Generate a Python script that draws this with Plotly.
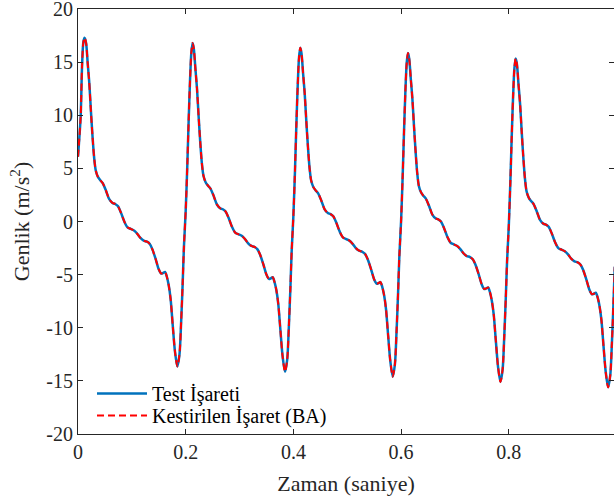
import plotly.graph_objects as go

# time (s) and amplitude (m/s^2)
t = [
    0.000, 0.0025, 0.005, 0.0075, 0.010, 0.0122, 0.015, 0.018, 0.021, 0.024, 0.027, 0.030, 0.033, 0.037, 0.041, 0.046,
    0.052, 0.058, 0.064, 0.069, 0.074, 0.080, 0.086, 0.092, 0.098, 0.104, 0.110, 0.116, 0.122, 0.128, 0.133, 0.138,
    0.144, 0.150, 0.1545, 0.158, 0.1616, 0.165, 0.1685, 0.172, 0.176, 0.180, 0.1845, 0.1885, 0.1915, 0.1944, 0.1968,
    0.200, 0.203, 0.2055, 0.208, 0.2105, 0.2128, 0.215, 0.218, 0.221, 0.224, 0.227, 0.230, 0.233, 0.237, 0.241, 0.246,
    0.252, 0.258, 0.264, 0.269, 0.274, 0.280, 0.286, 0.292, 0.298, 0.304, 0.310, 0.316, 0.322, 0.328, 0.333, 0.338,
    0.344, 0.350, 0.3545, 0.358, 0.3616, 0.365, 0.3685, 0.372, 0.376, 0.380, 0.3845, 0.3885, 0.3915, 0.3944, 0.3968,
    0.400, 0.403, 0.4055, 0.408, 0.4105, 0.4128, 0.415, 0.418, 0.421, 0.424, 0.427, 0.430, 0.433, 0.437, 0.441, 0.446,
    0.452, 0.458, 0.464, 0.469, 0.474, 0.480, 0.486, 0.492, 0.498, 0.504, 0.510, 0.516, 0.522, 0.528, 0.533, 0.538,
    0.544, 0.550, 0.5545, 0.558, 0.5616, 0.565, 0.5685, 0.572, 0.576, 0.580, 0.5845, 0.5885, 0.5915, 0.5944, 0.5968,
    0.600, 0.603, 0.6055, 0.608, 0.6105, 0.6128, 0.615, 0.618, 0.621, 0.624, 0.627, 0.630, 0.633, 0.637, 0.641, 0.646,
    0.652, 0.658, 0.664, 0.669, 0.674, 0.680, 0.686, 0.692, 0.698, 0.704, 0.710, 0.716, 0.722, 0.728, 0.733, 0.738,
    0.744, 0.750, 0.7545, 0.758, 0.7616, 0.765, 0.7685, 0.772, 0.776, 0.780, 0.7845, 0.7885, 0.7915, 0.7944, 0.7968,
    0.800, 0.803, 0.8055, 0.808, 0.8105, 0.8128, 0.815, 0.818, 0.821, 0.824, 0.827, 0.830, 0.833, 0.837, 0.841, 0.846,
    0.852, 0.858, 0.864, 0.869, 0.874, 0.880, 0.886, 0.892, 0.898, 0.904, 0.910, 0.916, 0.922, 0.928, 0.933, 0.938,
    0.944, 0.950, 0.9545, 0.958, 0.9616, 0.965, 0.9685, 0.972, 0.976, 0.980, 0.9845, 0.9885, 0.9915, 0.9944, 0.9968,
]

test_signal = [
    6.1, 7.9, 9.9, 14.6, 16.9, 17.3, 16.8, 14.9, 13.0, 10.4, 8.0, 6.0, 4.8, 4.2, 3.9, 3.6,
    2.9, 2.1, 1.75, 1.65, 1.45, 0.8, 0.0, -0.55, -0.7, -0.85, -1.15, -1.55, -1.8, -1.9, -2.1, -2.6,
    -3.5, -4.5, -4.9, -4.85, -4.75, -5.2, -6.0, -7.3, -9.8, -12.2, -13.65, -12.5, -9.5, -5.8, -2.3,
    1.0, 5.3, 9.5, 13.2, 15.9, 16.8, 16.3, 14.4, 12.5, 9.9, 7.5, 5.5, 4.3, 3.7, 3.4, 3.1,
    2.4, 1.6, 1.25, 1.15, 0.95, 0.3, -0.5, -1.05, -1.2, -1.35, -1.65, -2.05, -2.3, -2.4, -2.6, -3.1,
    -4.0, -5.0, -5.4, -5.35, -5.25, -5.7, -6.5, -7.8, -10.3, -12.7, -14.15, -13.0, -10.0, -6.3, -2.8,
    0.55, 4.85, 9.05, 12.75, 15.45, 16.35, 15.85, 13.95, 12.05, 9.45, 7.05, 5.05, 3.85, 3.25, 2.95, 2.65,
    1.95, 1.15, 0.8, 0.7, 0.5, -0.15, -0.95, -1.5, -1.65, -1.8, -2.1, -2.5, -2.75, -2.85, -3.05, -3.55,
    -4.45, -5.45, -5.85, -5.8, -5.7, -6.15, -6.95, -8.25, -10.75, -13.15, -14.6, -13.45, -10.45, -6.75, -3.25,
    0.05, 4.35, 8.55, 12.25, 14.95, 15.85, 15.35, 13.45, 11.55, 8.95, 6.55, 4.55, 3.35, 2.75, 2.45, 2.15,
    1.45, 0.65, 0.3, 0.2, 0.0, -0.65, -1.45, -2.0, -2.15, -2.3, -2.6, -3.0, -3.25, -3.35, -3.55, -4.05,
    -4.95, -5.95, -6.35, -6.3, -6.2, -6.65, -7.45, -8.75, -11.25, -13.65, -15.1, -13.95, -10.95, -7.25, -3.75,
    -0.45, 3.85, 8.05, 11.75, 14.45, 15.35, 14.85, 12.95, 11.05, 8.45, 6.05, 4.05, 2.85, 2.25, 1.95, 1.65,
    0.95, 0.15, -0.2, -0.3, -0.5, -1.15, -1.95, -2.5, -2.65, -2.8, -3.1, -3.5, -3.75, -3.85, -4.05, -4.55,
    -5.45, -6.45, -6.85, -6.8, -6.7, -7.15, -7.95, -9.25, -11.75, -14.15, -15.6, -14.45, -11.45, -7.75, -4.25,
]

# estimated signal (BA) - visually identical to the test signal in the reference
estimated_signal = list(test_signal)

x_tick_vals = [0, 0.2, 0.4, 0.6, 0.8]
x_tick_text = ["0", "0.2", "0.4", "0.6", "0.8"]
y_tick_vals = [-20, -15, -10, -5, 0, 5, 10, 15, 20]
y_tick_text = ["-20", "-15", "-10", "-5", "0", "5", "10", "15", "20"]

FONT = "Liberation Serif"
AX = "#262626"

L, T, B = 78, 9, 434
PW, PH = 614 - L, B - T

fig = go.Figure()
fig.add_trace(go.Scatter(
    x=t, y=test_signal, mode="lines", name="Test İşareti", legend="legend",
    line=dict(color="#0072BD", width=2.5, shape="spline", smoothing=0.8),
))
fig.add_trace(go.Scatter(
    x=t, y=estimated_signal, mode="lines", name="Kestirilen İşaret (BA)", legend="legend2",
    line=dict(color="#FF0000", width=2, dash="7px,4px", shape="spline", smoothing=0.8),
))

leg_common = dict(
    xanchor="left", yanchor="middle",
    bgcolor="rgba(0,0,0,0)", borderwidth=0,
    font=dict(family=FONT, size=20, color="black"),
    itemwidth=50,
)

fig.update_layout(
    width=614, height=500,
    margin=dict(l=L, r=0, t=T, b=500 - B, autoexpand=False),
    paper_bgcolor="white", plot_bgcolor="white",
    font=dict(family=FONT, size=20, color=AX),
    showlegend=True,
    legend=dict(x=(92 - L) / PW, y=(B - 393.5) / PH, **leg_common),
    legend2=dict(x=(92 - L) / PW, y=(B - 415.5) / PH, **leg_common),
    xaxis=dict(
        range=[0, 0.9954], tickvals=x_tick_vals, ticktext=x_tick_text,
        showgrid=False, zeroline=False, showline=True, linecolor=AX, linewidth=1,
        mirror="ticks", ticks="inside", ticklen=5, tickcolor=AX, automargin=False,
        ticklabeloverflow="allow",
        tickfont=dict(family=FONT, size=20, color=AX),
        title=dict(text="Zaman (saniye)", font=dict(family=FONT, size=22, color=AX), standoff=13),
    ),
    yaxis=dict(
        range=[-20, 20], tickvals=y_tick_vals, ticktext=y_tick_text,
        showgrid=False, zeroline=False, showline=True, linecolor=AX, linewidth=1,
        mirror="ticks", ticks="inside", ticklen=5, tickcolor=AX, automargin=False,
        ticklabeloverflow="allow",
        tickfont=dict(family=FONT, size=20, color=AX),
        title=dict(text="Genlik (m/s<sup>2</sup>)", font=dict(family=FONT, size=22, color=AX), standoff=10),
    ),
)

fig.write_html(
    "out.html",
    config={"displayModeBar": False},
    post_script="document.body.style.margin='0';document.body.style.overflow='hidden';",
)
